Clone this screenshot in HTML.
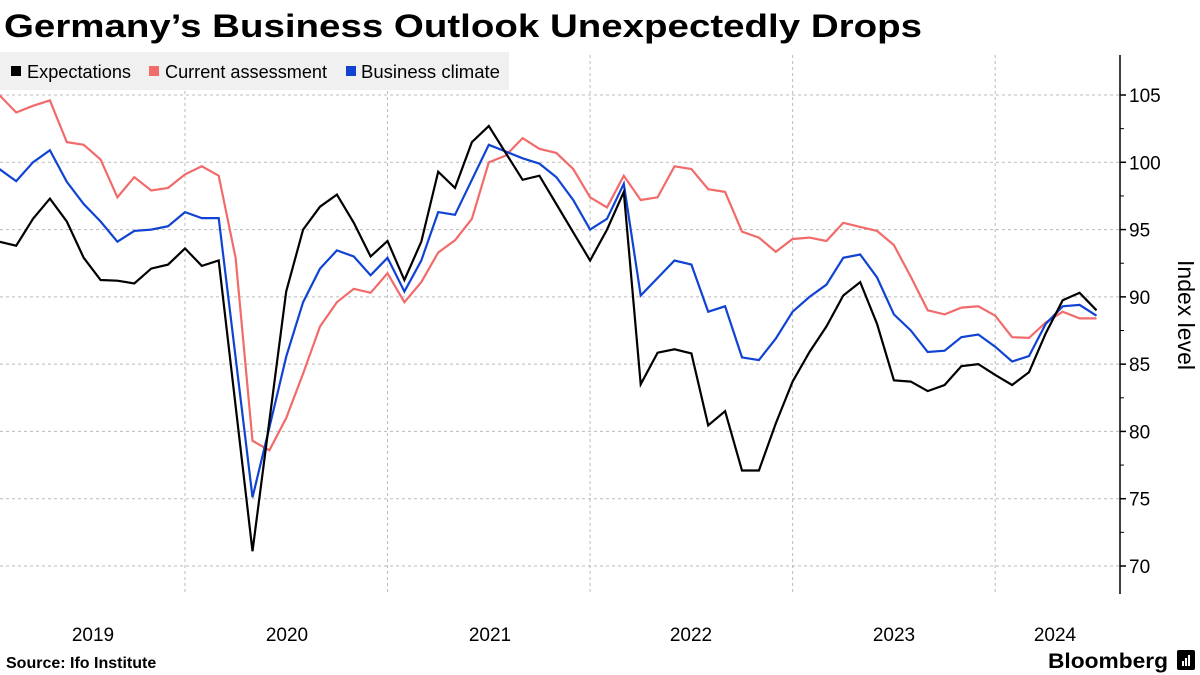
<!DOCTYPE html>
<html><head><meta charset="utf-8"><style>
body{margin:0;background:#fff;width:1200px;height:675px;overflow:hidden;font-family:"Liberation Sans",sans-serif}
svg{display:block}
</style></head><body>
<svg id="chart" width="1200" height="675" viewBox="0 0 1200 675" xmlns="http://www.w3.org/2000/svg">
<text x="4" y="37" font-family="Liberation Sans, sans-serif" font-weight="bold" font-size="32" textLength="918" lengthAdjust="spacingAndGlyphs" fill="#000">Germany’s Business Outlook Unexpectedly Drops</text>
<g id="grid"></g>
<g id="series"></g>
<g id="axis"></g>
<g id="xaxis"></g>
<g>
<rect x="0" y="52" width="509" height="38" fill="#f0f0f0"/>
<rect x="11" y="66" width="10" height="10" fill="#000"/>
<text x="27" y="78" font-size="18" textLength="104" lengthAdjust="spacingAndGlyphs" fill="#000">Expectations</text>
<rect x="149" y="66" width="10" height="10" fill="#f26b6b"/>
<text x="165" y="78" font-size="18" textLength="162" lengthAdjust="spacingAndGlyphs" fill="#000">Current assessment</text>
<rect x="346" y="66" width="10" height="10" fill="#1043d3"/>
<text x="361" y="78" font-size="18" textLength="139" lengthAdjust="spacingAndGlyphs" fill="#000">Business climate</text>
</g>
<text transform="translate(1178,315) rotate(90)" text-anchor="middle" font-size="23" fill="#000">Index level</text>
<text x="6" y="668" font-size="16" font-weight="bold" fill="#000">Source: Ifo Institute</text>
<text x="1048" y="668" font-size="21" font-weight="bold" fill="#000" textLength="120" lengthAdjust="spacingAndGlyphs">Bloomberg</text>
<rect x="1177" y="650" width="18" height="20" rx="2" fill="#000"/>
<rect x="1182" y="661" width="2" height="5" fill="#fff"/><rect x="1185" y="658" width="2" height="8" fill="#fff"/><rect x="1188" y="655" width="2" height="11" fill="#fff"/>
</svg>
<script>
const expectations=[94.1,93.8,95.8,97.3,95.6,92.9,91.25,91.2,91.0,92.1,92.4,93.6,92.3,92.7,81.9,71.1,80.8,90.4,95.0,96.7,97.6,95.5,93.0,94.15,91.25,94.1,99.3,98.1,101.5,102.7,100.7,98.7,99.0,96.9,94.8,92.7,95.0,97.8,83.5,85.85,86.1,85.8,80.45,81.5,77.1,77.1,80.6,83.7,85.9,87.8,90.1,91.1,88.0,83.8,83.7,83.0,83.45,84.85,85.0,84.2,83.45,84.4,87.3,89.75,90.3,89.0];
const currentAssessment=[105.0,103.7,104.2,104.6,101.5,101.3,100.2,97.4,98.9,97.9,98.1,99.1,99.7,99.0,92.9,79.3,78.6,81.0,84.3,87.8,89.6,90.6,90.3,91.75,89.6,91.1,93.3,94.2,95.8,100.0,100.5,101.8,101.0,100.7,99.5,97.4,96.65,99.0,97.2,97.4,99.7,99.5,98.0,97.8,94.85,94.4,93.35,94.3,94.4,94.15,95.5,95.2,94.9,93.85,91.5,89.0,88.7,89.2,89.3,88.6,87.0,86.95,88.1,88.9,88.4,88.4];
const businessClimate=[99.5,98.6,100.0,100.9,98.55,96.9,95.6,94.1,94.9,95.0,95.25,96.3,95.85,95.85,85.5,75.1,80.3,85.55,89.6,92.1,93.45,93.0,91.6,92.9,90.4,92.7,96.3,96.1,98.7,101.3,100.8,100.3,99.9,98.9,97.2,95.0,95.8,98.4,90.1,91.4,92.7,92.4,88.9,89.3,85.5,85.3,86.9,88.9,90.0,90.9,92.9,93.15,91.45,88.7,87.5,85.9,86.0,87.0,87.2,86.3,85.2,85.6,88.0,89.3,89.4,88.6];
const yTicks=[70,75,80,85,90,95,100,105];
const yearLabels=["2019","2020","2021","2022","2023","2024"];
const yearLabelX=[93,287,490,691,894,1055];
const NS="http://www.w3.org/2000/svg";
const firstMonth=1; // Feb 2019, months counted from Jan 2019
function xScale(i){return -17.6+(i+firstMonth)*16.88;}
function yScale(v){return 566-(v-70)*13.457;}
function mk(tag,attrs,parent){const e=document.createElementNS(NS,tag);for(const k in attrs)e.setAttribute(k,attrs[k]);parent.appendChild(e);return e;}
const grid=document.getElementById('grid'),axis=document.getElementById('axis'),xa=document.getElementById('xaxis'),ser=document.getElementById('series');
yTicks.forEach(t=>{
  const y=yScale(t);
  const g=mk('line',{x1:0,x2:1120,y1:y,y2:y,stroke:'#bbb','stroke-width':1,'stroke-dasharray':'3,3'},grid);
  
  
  mk('line',{x1:1120,x2:1126,y1:y,y2:y,stroke:'#000','stroke-width':1.5},axis);
  const tx=mk('text',{x:1129,y:y+7,'font-size':19,fill:'#000'},axis);
  tx.textContent=t;
  
  
  const ym=yScale(t+2.5);
  if(t<105) mk('line',{x1:1120,x2:1124,y1:ym,y2:ym,stroke:'#000','stroke-width':1},axis);
});
for(let yr=1;yr<6;yr++){
  const x=xScale(yr*12-firstMonth);
  const g=mk('line',{x1:x,x2:x,y1:55,y2:593,stroke:'#bbb','stroke-width':1,'stroke-dasharray':'3,3'},grid);
  
  
}
mk('line',{x1:1120,x2:1120,y1:55,y2:594,stroke:'#000','stroke-width':1.5},axis);
yearLabels.forEach((l,i)=>{
  const t=mk('text',{x:yearLabelX[i],y:641,'font-size':19,'text-anchor':'middle',fill:'#000'},xa);
  t.textContent=l;
  
  
});
function line(data,color,name){
  const d=data.map((v,i)=>(i?'L':'M')+xScale(i).toFixed(1)+','+yScale(v).toFixed(1)).join(' ');
  const p=mk('path',{d:d,fill:'none',stroke:color,'stroke-width':2.2,'stroke-linejoin':'miter'},ser);
  
  
}
line(currentAssessment,'#f26b6b','current-assessment-line');
line(businessClimate,'#1043d3','business-climate-line');
line(expectations,'#000000','expectations-line');
</script>
</body></html>
